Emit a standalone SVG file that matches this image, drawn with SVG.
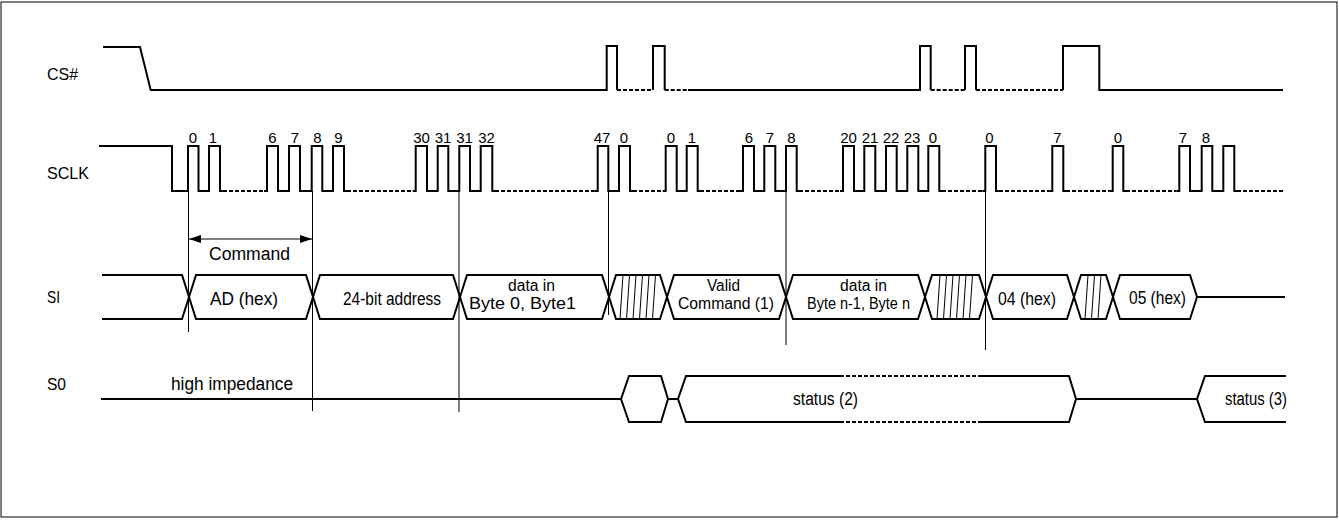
<svg xmlns="http://www.w3.org/2000/svg" width="1339" height="520" viewBox="0 0 1339 520">
<style>
.sig{fill:none;stroke:#000;stroke-width:2;stroke-linejoin:miter}
.dot{fill:none;stroke:#000;stroke-width:2;stroke-dasharray:4 2}
.thin{fill:none;stroke:#000;stroke-width:1}
.hatch{fill:none;stroke:#000;stroke-width:1}
text{font-family:"Liberation Sans",Arial,sans-serif;fill:#000}
.t{font-size:18px}
.t2{font-size:16px}
.n{font-size:15px;text-anchor:middle}
.lbl{font-size:17px}
</style>
<defs>
<marker id="ah" viewBox="0 0 12 8" refX="12" refY="4" markerWidth="12" markerHeight="8" markerUnits="userSpaceOnUse" orient="auto-start-reverse">
<path d="M0,0 L12,4 L0,8 Z" fill="#000"/>
</marker>
</defs>
<rect x="1" y="2" width="1336" height="515" fill="#fff" stroke="#000" stroke-width="1"/>

<g id="labels">
<text class="lbl" x="47" y="80" textLength="31" lengthAdjust="spacingAndGlyphs">CS#</text>
<text class="lbl" x="47" y="179" textLength="42" lengthAdjust="spacingAndGlyphs">SCLK</text>
<text class="lbl" x="47" y="303" textLength="13" lengthAdjust="spacingAndGlyphs">SI</text>
<text class="lbl" x="47" y="390" textLength="19" lengthAdjust="spacingAndGlyphs">S0</text>
</g>

<g id="cs">
<path class="sig" d="M103,47 H140 L150.7,90 H606.7 V46 H617 V90 M653,90 V46 H664.7 V90 M688,90 H920 V46 H930.7 V90 M965,90 V46 H976 V90 M1063,90 V46 H1099.3 V90 H1283"/>
<path class="dot" d="M617,90 H653 M664.7,90 H688 M930.7,90 H965 M976,90 H1063"/>
</g>

<g id="sclk">
<path class="sig" d="M99,146 H172 V191 H188 V146 H198.5 V191 H209 V146 H220 V191 H223
M264,191 H267 V146 H278 V191 H289 V146 H300 V191 H311.7 V146 H322.3 V191 H333 V146 H344 V191 H347
M412.7,191 H415.7 V146 H427 V191 H437.7 V146 H448.3 V191 H459.3 V146 H470 V191 H480.7 V146 H492.3 V191 H495
M594.7,191 H597.7 V146 H608.3 V191 H619 V146 H630 V191 H633
M662.7,191 H665.7 V146 H676.7 V191 H686.7 V146 H697.7 V191 H700
M740,191 H743 V146 H754 V191 H764.3 V146 H775.3 V191 H786 V146 H796.7 V191 H799
M840,191 H843 V146 H854 V191 H864.3 V146 H875.3 V191 H886 V146 H896.7 V191 H907.3 V146 H918.3 V191 H928.3 V146 H939.3 V191 H942
M982.3,191 H985.3 V146 H996 V191 H999
M1049.3,191 H1052.3 V146 H1063.3 V191 H1066
M1109.7,191 H1112.7 V146 H1123.3 V191 H1126
M1176.3,191 H1179.3 V146 H1190 V191 H1201.7 V146 H1212.3 V191 H1223.3 V146 H1234.3 V191 H1237"/>
<path class="dot" d="M223,191 H264 M347,191 H412.7 M495,191 H594.7 M633,191 H662.7 M700,191 H740 M799,191 H840 M942,191 H982.3 M999,191 H1049.3 M1066,191 H1109.7 M1126,191 H1176.3 M1237,191 H1285"/>
<text class="n" x="193" y="143">0</text>
<text class="n" x="213" y="143">1</text>
<text class="n" x="272.5" y="143">6</text>
<text class="n" x="295" y="143">7</text>
<text class="n" x="317.5" y="143">8</text>
<text class="n" x="338.5" y="143">9</text>
<text class="n" x="421.5" y="143">30</text>
<text class="n" x="443" y="143">31</text>
<text class="n" x="464.5" y="143">31</text>
<text class="n" x="486.5" y="143">32</text>
<text class="n" x="602" y="143">47</text>
<text class="n" x="624" y="143">0</text>
<text class="n" x="671" y="143">0</text>
<text class="n" x="692" y="143">1</text>
<text class="n" x="749" y="143">6</text>
<text class="n" x="770" y="143">7</text>
<text class="n" x="791.5" y="143">8</text>
<text class="n" x="848.5" y="143">20</text>
<text class="n" x="870" y="143">21</text>
<text class="n" x="891" y="143">22</text>
<text class="n" x="912" y="143">23</text>
<text class="n" x="933" y="143">0</text>
<text class="n" x="989.5" y="143">0</text>
<text class="n" x="1057.5" y="143">7</text>
<text class="n" x="1118" y="143">0</text>
<text class="n" x="1183" y="143">7</text>
<text class="n" x="1206" y="143">8</text>
</g>

<g id="si">
<path class="sig" d="M102,275 H182 L189,297 L182,319 H102"/>
<path class="sig" d="M189,297 L196,275 H306 L313,297 L306,319 H196 Z"/>
<path class="sig" d="M313,297 L320,275 H453 L460,297 L453,319 H320 Z"/>
<path class="sig" d="M460,297 L467,275 H602 L609,297 L602,319 H467 Z"/>
<path class="sig" d="M609,297 L616,275 H660 L667,297 L660,319 H616 Z"/>
<path class="sig" d="M667,297 L674,275 H779 L786,297 L779,319 H674 Z"/>
<path class="sig" d="M786,297 L793,275 H918 L925,297 L918,319 H793 Z"/>
<path class="sig" d="M925,297 L932,275 H979 L986,297 L979,319 H932 Z"/>
<path class="sig" d="M986,297 L993,275 H1067 L1074,297 L1067,319 H993 Z"/>
<path class="sig" d="M1074,297 L1081,275 H1106 L1113,297 L1106,319 H1081 Z"/>
<path class="sig" d="M1113,297 L1120,275 H1190 L1197,297 L1190,319 H1120 Z"/>
<path class="sig" d="M1197,297 H1285"/>
<path class="hatch" d="M623,275 L620,319 M629.5,275 L626.5,319 M636,275 L633,319 M642.5,275 L639.5,319 M649,275 L646,319 M655.5,275 L652.5,319
M940,275 L937,319 M946.5,275 L943.5,319 M953,275 L950,319 M959.5,275 L956.5,319 M966,275 L963,319 M972.5,275 L969.5,319
M1088,275 L1085,319 M1094.5,275 L1091.5,319 M1101,275 L1098,319"/>
<text class="t" x="210" y="305" textLength="68" lengthAdjust="spacingAndGlyphs">AD (hex)</text>
<text class="t" x="343" y="305" textLength="98" lengthAdjust="spacingAndGlyphs">24-bit address</text>
<text class="t2" x="508" y="291" textLength="47" lengthAdjust="spacingAndGlyphs">data in</text>
<text class="t2" x="469" y="309" textLength="107" lengthAdjust="spacingAndGlyphs">Byte 0, Byte1</text>
<text class="t2" x="707" y="291" textLength="33" lengthAdjust="spacingAndGlyphs">Valid</text>
<text class="t2" x="678" y="309" textLength="96" lengthAdjust="spacingAndGlyphs">Command (1)</text>
<text class="t2" x="840" y="291" textLength="47" lengthAdjust="spacingAndGlyphs">data in</text>
<text class="t2" x="807" y="309" textLength="103" lengthAdjust="spacingAndGlyphs">Byte n-1, Byte n</text>
<text class="t" x="998" y="305" textLength="58" lengthAdjust="spacingAndGlyphs">04 (hex)</text>
<text class="t" x="1129" y="304" textLength="57" lengthAdjust="spacingAndGlyphs">05 (hex)</text>
</g>

<g id="so">
<path class="sig" d="M101,399 H621 L629,376 H661 L668,399 L661,422 H629 L621,399 M668,399 H678"/>
<path class="sig" d="M840,376 H686 L678,399 L686,422 H840 M982,376 H1069 L1076,399 L1069,422 H982"/>
<path class="dot" d="M840,376 H982 M840,422 H982"/>
<path class="sig" d="M1076,399 H1197 M1286,376 H1205 L1197,399 L1205,422 H1286"/>
<text class="t" x="171" y="390" textLength="122" lengthAdjust="spacingAndGlyphs">high impedance</text>
<text class="t" x="793" y="405" textLength="65" lengthAdjust="spacingAndGlyphs">status (2)</text>
<text class="t" x="1225" y="405" textLength="62" lengthAdjust="spacingAndGlyphs">status (3)</text>
</g>

<g id="connectors">
<line class="thin" x1="188.5" y1="191" x2="188.5" y2="332"/>
<line class="thin" x1="312.5" y1="191" x2="312.5" y2="411"/>
<line class="thin" x1="459" y1="191" x2="459" y2="412"/>
<line class="thin" x1="608.5" y1="191" x2="608.5" y2="315"/>
<line class="thin" x1="786" y1="191" x2="786" y2="345"/>
<line class="thin" x1="985.5" y1="191" x2="985.5" y2="350"/>
<line class="thin" x1="189" y1="239" x2="312" y2="239" stroke-width="1.5" marker-start="url(#ah)" marker-end="url(#ah)"/>
<text class="t" x="209" y="260" textLength="81" lengthAdjust="spacingAndGlyphs">Command</text>
</g>
</svg>
